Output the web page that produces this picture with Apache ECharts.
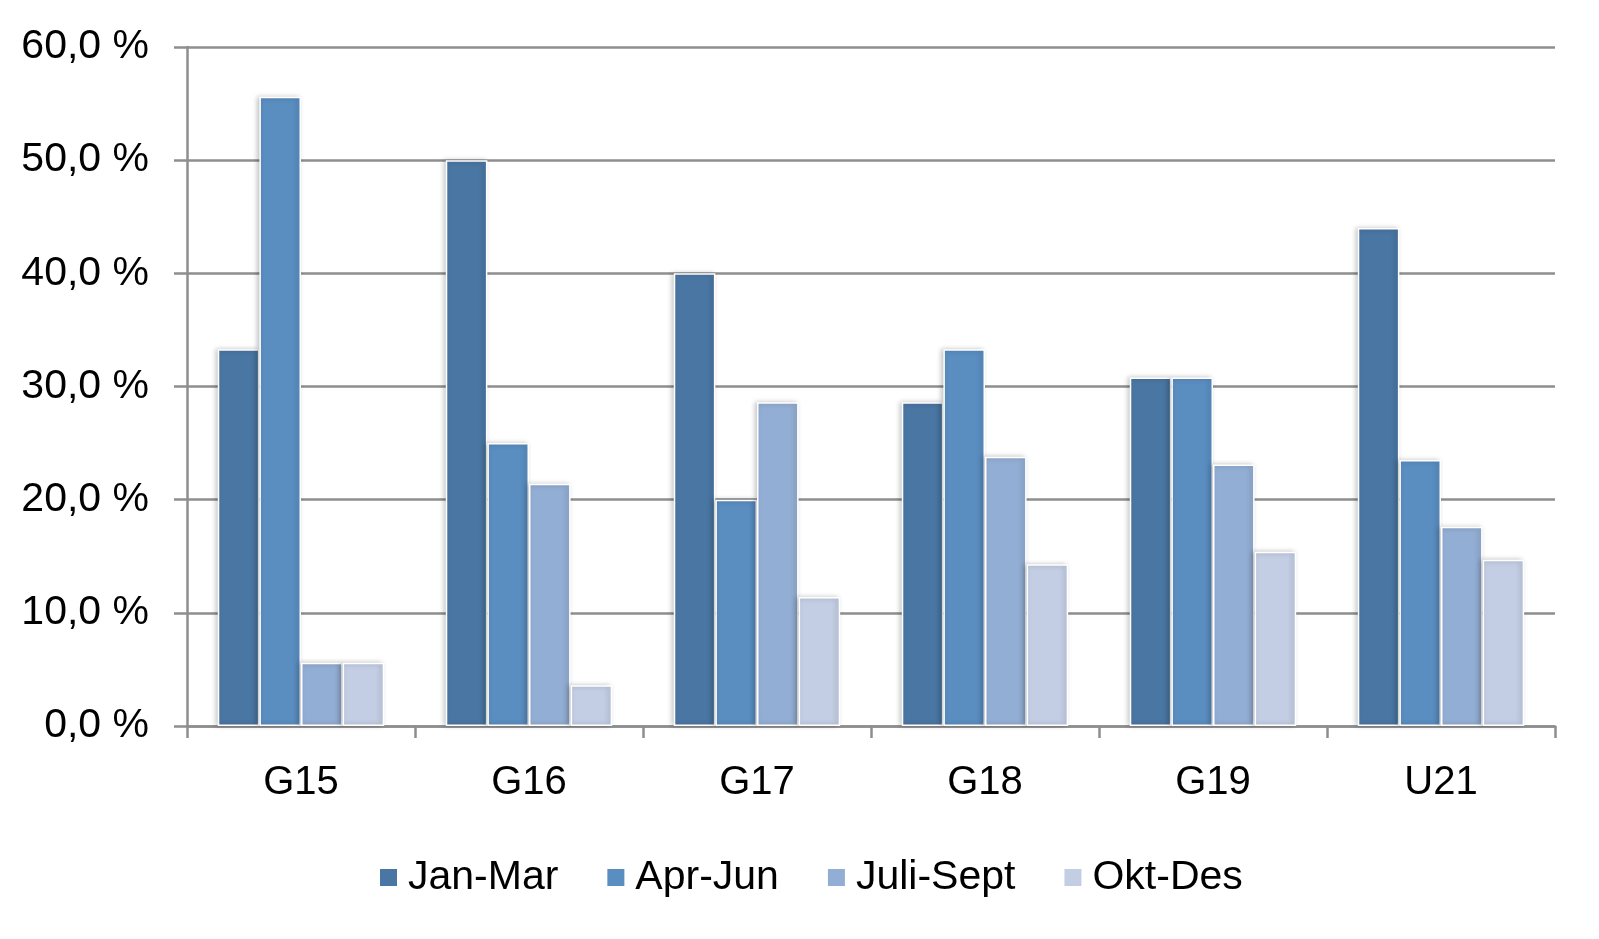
<!DOCTYPE html>
<html><head><meta charset="utf-8">
<script src="https://cdn.jsdelivr.net/npm/echarts@6/dist/echarts.min.js"></script>
<style>html,body{margin:0;padding:0;background:#fff}#c{width:1599px;height:939px}</style>
</head><body><div id="c"></div>
<script>
const categories = ['G15','G16','G17','G18','G19','U21'];
const seriesNames = ['Jan-Mar','Apr-Jun','Juli-Sept','Okt-Des'];
const janMar = [33.3, 50.0, 40.0, 28.6, 30.8, 44.0];
const aprJun = [55.6, 25.0, 20.0, 33.3, 30.8, 23.5];
const juliSept = [5.6, 21.4, 28.6, 23.8, 23.1, 17.6];
const oktDes = [5.6, 3.6, 11.4, 14.3, 15.4, 14.7];
const colors = ['#4a76a3','#5a8dc0','#93aed4','#c3cee4'];
const values = [janMar, aprJun, juliSept, oktDes];

const font = '"Liberation Sans", Arial, sans-serif';
const lineCol = '#8e8e8e';
const chart = echarts.init(document.getElementById('c'));
chart.setOption({
  animation: false,
  backgroundColor: '#fff',
  grid: { left: 187, right: 44, top: 47, bottom: 213, containLabel: false },
  legend: {
    data: seriesNames,
    left: 373, top: 852,
    itemWidth: 19, itemHeight: 19, itemGap: 47,
    icon: 'rect',
    textStyle: { fontFamily: font, fontSize: 41, color: '#000', padding: [0,0,0,5] }
  },
  xAxis: {
    type: 'category', data: categories,
    axisLine: { lineStyle: { color: lineCol, width: 2.5 } },
    axisTick: { show: true, length: 12, alignWithLabel: false, lineStyle: { color: lineCol, width: 2.5 } },
    axisLabel: { fontFamily: font, fontSize: 40, color: '#000', margin: 37 }
  },
  yAxis: {
    type: 'value', min: 0, max: 60, interval: 10,
    axisLine: { show: true, lineStyle: { color: lineCol, width: 2.5 } },
    axisTick: { show: true, length: 13, lineStyle: { color: lineCol, width: 2.5 } },
    splitLine: { lineStyle: { color: lineCol, width: 2.5 } },
    axisLabel: { fontFamily: font, fontSize: 41, color: '#000', margin: 38,
      formatter: v => v.toFixed(1).replace('.', ',') + ' %' }
  },
  series: seriesNames.map((n, i) => ({
    name: n, type: 'bar', data: values[i],
    barGap: '0%', barCategoryGap: '27%',
    itemStyle: { color: colors[i], borderColor: '#fff', borderWidth: 1.5,
      shadowColor: 'rgba(0,0,0,0.25)', shadowBlur: 5, shadowOffsetX: -2, shadowOffsetY: 0 }
  }))
});
</script></body></html>
